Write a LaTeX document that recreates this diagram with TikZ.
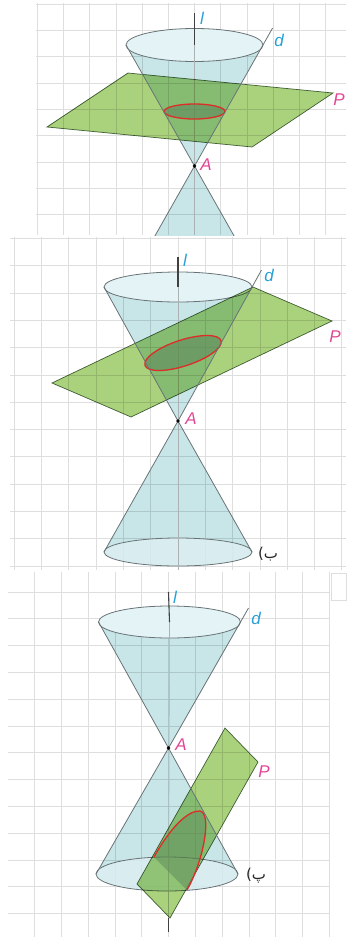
\documentclass[tikz,border=0pt]{standalone}
\usepackage{fontspec}
\setsansfont{Liberation Sans}
\newfontfamily\arabicfont[Script=Arabic]{DejaVu Sans}
\TeXXeTstate=1
\definecolor{gridc}{RGB}{222,222,222}
\definecolor{conec}{RGB}{200,229,232}
\definecolor{openc}{RGB}{228,243,245}
\definecolor{basec}{RGB}{222,240,243}
\definecolor{edgec}{RGB}{105,115,118}
\definecolor{planec}{RGB}{170,210,125}
\definecolor{planeedge}{RGB}{80,105,75}
\definecolor{redc}{RGB}{220,45,40}
\definecolor{sectc}{RGB}{100,145,95}
\definecolor{lblue}{RGB}{40,160,215}
\definecolor{lpink}{RGB}{225,70,150}
\begin{document}
\begin{tikzpicture}[x=1pt,y=-1pt,
  gridline/.style={draw=gridc, line width=0.8pt},
  body/.style={fill=conec, blend mode=multiply},
  opening/.style={fill=openc, draw=edgec, line width=0.8pt},
  basedisk/.style={fill=basec, fill opacity=0.8, draw=edgec, line width=0.8pt},
  edge/.style={draw=edgec, line width=0.8pt},
  axisfaint/.style={draw=edgec!55, line width=0.6pt},
  axisdark/.style={draw=black!75, line width=1.1pt},
  plane/.style={fill=planec, draw=planeedge, line width=0.7pt, blend mode=multiply},
  section/.style={fill=sectc, fill opacity=0.7, draw=redc, line width=1.3pt},
  apex/.style={circle, fill=black, inner sep=0pt, minimum size=3.6pt},
  lab/.style={font=\fontsize{17}{17}\selectfont\sffamily\itshape, inner sep=0pt},
  tag/.style={font=\arabicfont\fontsize{15}{15}\selectfont, inner sep=0pt, text=black!85}]
\useasboundingbox (0,0) rectangle (346,937);

% ---------- first figure: circle ----------
\begin{scope}
  \clip (36,3) rectangle (346,235);
  \foreach \i in {-6,...,6} \draw[gridline] ({194.5+26.2*\i},3) -- ({194.5+26.2*\i},235);
  \foreach \j in {-3,...,6} \draw[gridline] (36,{83+26.3*\j}) -- (346,{83+26.3*\j});
  \coordinate (A1) at (194.5,166);
  \coordinate (C1) at (194.5,45);
  \coordinate (TL1) at (126,45);
  \coordinate (TR1) at (263,45);
  \coordinate (BL1) at (141.3,260);
  \coordinate (BR1) at (247.7,260);
  \coordinate (D1) at (272.6,28);
  \coordinate (X1) at (194.5,13);
  \coordinate (Z1) at (194.5,235);
  \path[body] (TL1) -- (A1) -- (TR1) -- cycle;
  \path[body] (A1) -- (BL1) -- (BR1) -- cycle;
  \draw[opening] (C1) ellipse [x radius=68.5, y radius=16.5];
  \draw[axisfaint] (C1) -- (Z1);
  \path[plane] (47,127) coordinate (PL1) -- (128,73) coordinate (PT1)
     -- (333,93) coordinate (PR1) -- (252,147) coordinate (PB1) -- cycle;
  \draw[section] (194.5,111.5) ellipse [x radius=30.5, y radius=7.5];
  \draw[edge] (TL1) -- (A1) -- (BR1);
  \draw[edge] (D1) -- (A1) -- (BL1);
  \draw[axisdark] (X1) -- (C1);
  \node[apex] (a1) at (A1) {};
  \node[lab, text=lblue] (l1) at (202,18) {l};
  \node[lab, text=lblue] (d1) at (279,40) {d};
  \node[lab, text=lpink] (p1) at (339,100) {P};
  \node[lab, text=lpink] (al1) at (206,165) {A};
\end{scope}

% ---------- second figure: ellipse ----------
\begin{scope}
  \clip (10,237) rectangle (346,570);
  \foreach \i in {-7,...,7} \draw[gridline] ({178+27.3*\i},237) -- ({178+27.3*\i},570);
  \foreach \j in {-3,...,10} \draw[gridline] (10,{293+27.3*\j}) -- (346,{293+27.3*\j});
  \coordinate (A2) at (178,421);
  \coordinate (C2) at (178,287);
  \coordinate (TL2) at (104,287);
  \coordinate (TR2) at (252,287);
  \coordinate (B2) at (178,552);
  \coordinate (BL2) at (104,552);
  \coordinate (BR2) at (252,552);
  \coordinate (D2) at (261.5,270);
  \coordinate (X2) at (178,257);
  \coordinate (Z2) at (178,570);
  \path[body] (TL2) -- (A2) -- (TR2) -- cycle;
  \path[body] (A2) -- (BL2) arc[start angle=180, end angle=0, x radius=74, y radius=14] -- cycle;
  \draw[opening] (C2) ellipse [x radius=74, y radius=15];
  \draw[basedisk] (B2) ellipse [x radius=74, y radius=14];
  \draw[axisfaint] (C2) -- (Z2);
  \path[plane] (52,383) coordinate (PL2) -- (253,287) coordinate (PT2)
     -- (332,321) coordinate (PR2) -- (131,417) coordinate (PB2) -- cycle;
  \draw[section, shift={(183,353)}, rotate=18] (0,0) ellipse [x radius=40, y radius=13];
  \draw[edge] (TL2) -- (A2) -- (BR2);
  \draw[edge] (D2) -- (A2) -- (BL2);
  \draw[axisdark] (X2) -- (C2);
  \node[apex] (a2) at (A2) {};
  \node[lab, text=lblue] (l2) at (185,260) {l};
  \node[lab, text=lblue] (d2) at (269,275) {d};
  \node[lab, text=lpink] (p2) at (335,337) {P};
  \node[lab, text=lpink] (al2) at (191,419) {A};
  \node[tag] (t2) at (268,554) {\beginR ب)\endR};
\end{scope}

% ---------- third figure: parabola ----------
\begin{scope}
  \clip (8,572) rectangle (330,937);
  \foreach \i in {-7,...,7} \draw[gridline] ({168.5+26.8*\i},572) -- ({168.5+26.8*\i},937);
  \foreach \j in {-11,...,3} \draw[gridline] (8,{860+26.8*\j}) -- (330,{860+26.8*\j});
  \coordinate (A3) at (168.5,748);
  \coordinate (C3) at (169.5,622);
  \coordinate (TL3) at (98.5,622);
  \coordinate (TR3) at (240.5,622);
  \coordinate (B3) at (167,874);
  \coordinate (BL3) at (96,874);
  \coordinate (BR3) at (238,874);
  \coordinate (D3) at (248.5,608);
  \coordinate (X3) at (168.5,592);
  \coordinate (Z3) at (168.5,932);
  \coordinate (E1) at (154,857);
  \coordinate (E2) at (187,890);
  \path[body] (TL3) -- (A3) -- (TR3) -- cycle;
  \path[body] (A3) -- (BL3) arc[start angle=180, end angle=0, x radius=71, y radius=17] -- cycle;
  \draw[opening] (C3) ellipse [x radius=71, y radius=16];
  \draw[basedisk] (B3) ellipse [x radius=71, y radius=17];
  \draw[axisfaint] (C3) -- (Z3);
  \path[plane] (225,728) coordinate (PT3) -- (258,762) coordinate (PR3)
     -- (170,918) coordinate (PB3) -- (137,884) coordinate (PL3) -- cycle;
  \fill[sectc, fill opacity=0.6] (E1) .. controls (170,828) and (188,810) .. (200,811)
     .. controls (212,813) and (204,860) .. (E2) -- cycle;
  \draw[redc, line width=1.3pt] (E1) .. controls (170,828) and (188,810) .. (200,811)
     .. controls (212,813) and (204,860) .. (E2);
  \draw[edge] (TL3) -- (A3) -- (BR3);
  \draw[edge] (D3) -- (A3) -- (BL3);
  \draw[axisdark] (X3) -- (C3);
  \draw[axisdark] (168.5,918) -- (Z3);
  \node[apex] (a3) at (A3) {};
  \node[lab, text=lblue] (l3) at (175,597) {l};
  \node[lab, text=lblue] (d3) at (256,618) {d};
  \node[lab, text=lpink] (p3) at (264,772) {P};
  \node[lab, text=lpink] (al3) at (181,745) {A};
  \node[tag] (t3) at (256,876) {\beginR پ)\endR};
\end{scope}
\draw[gridc, line width=0.8pt] (331,573) rectangle (346,600);
\end{tikzpicture}
\end{document}
